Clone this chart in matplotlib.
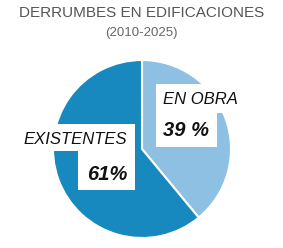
import matplotlib.pyplot as plt
from matplotlib.patches import Rectangle

labels = ['EN OBRA', 'EXISTENTES']
values = [39, 61]
pct_labels = ['39 %', '61%']
colors = ['#8ec0e4', '#1789be']

W, H = 283, 248
cx, cy, r = 142, 149, 89


def px(x, y):
    # pixel position -> pie data units
    return (x - cx) / r, (cy - y) / r


plt.rcParams['font.family'] = ['Liberation Sans', 'DejaVu Sans']
fig = plt.figure(figsize=(W / 100, H / 100), dpi=100)
fig.patch.set_facecolor('white')

ax = fig.add_axes([(cx - r) / W, (H - cy - r) / H, 2 * r / W, 2 * r / H])
ax.pie(values, colors=colors, startangle=90, counterclock=False,
       wedgeprops=dict(edgecolor='white', linewidth=1.5))
ax.set_xlim(-1, 1)
ax.set_ylim(-1, 1)
ax.set_aspect('equal')
ax.axis('off')

# white label boxes (x0, y0, x1, y1 in pixels)
boxes = [(156, 84, 248, 113), (156, 113, 217, 147),
         (18, 124, 135, 151), (78, 151, 135, 190)]
for x0, y0, x1, y1 in boxes:
    a, b = px(x0, y1)
    ax.add_patch(Rectangle((a, b), (x1 - x0) / r, (y1 - y0) / r,
                           facecolor='white', edgecolor='none',
                           clip_on=False, zorder=3))

ax.text(*px(163, 100), labels[0], fontsize=12, style='italic',
        ha='left', va='center', color='#111111', zorder=4)
ax.text(*px(163, 131), pct_labels[0], fontsize=14.5, style='italic',
        fontweight='bold', ha='left', va='center', color='#111111', zorder=4)
ax.text(*px(23, 139), labels[1], fontsize=12, style='italic',
        ha='left', va='center', color='#111111', zorder=4)
ax.text(*px(87, 174), pct_labels[1], fontsize=14.5, style='italic',
        fontweight='bold', ha='left', va='center', color='#111111', zorder=4)

fig.text(0.5, 1 - 13 / H, 'DERRUMBES EN EDIFICACIONES', fontsize=11,
         ha='center', va='center', color='#555555')
fig.text(0.5, 1 - 33 / H, '(2010-2025)', fontsize=9.5,
         ha='center', va='center', color='#666666')

fig.savefig('out.png', dpi=100, facecolor='white')
